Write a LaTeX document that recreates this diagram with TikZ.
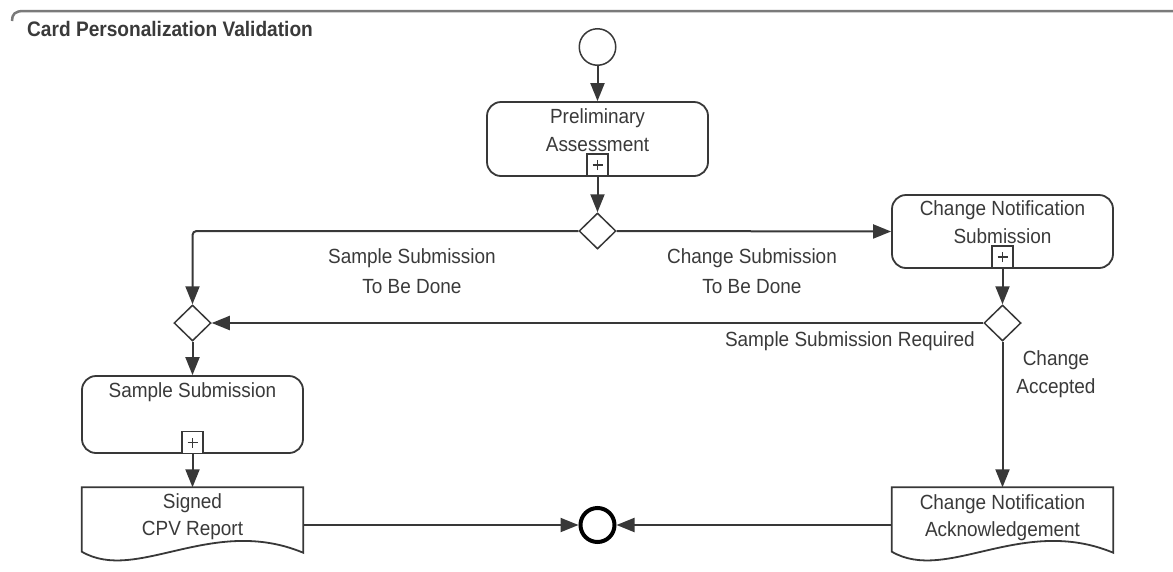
\documentclass[tikz,border=0pt]{standalone}
\usepackage{fontspec}
\setmainfont{Liberation Sans}
\newfontfamily\condfont[FakeStretch=0.925]{Liberation Sans}
\newfontfamily\titlefont[FakeStretch=0.91]{Liberation Sans}
\usetikzlibrary{shapes.geometric,arrows.meta,calc}
\definecolor{ink}{HTML}{383838}
\definecolor{txtc}{HTML}{3A3A3A}
\definecolor{framegray}{HTML}{7A7A7A}
\tikzset{
  task/.style={draw=ink, line width=1.8pt, rounded corners=14pt, fill=white,
    minimum width=221pt, minimum height=74pt, inner sep=0pt},
  plusbox/.style={draw=ink, line width=1.5pt, fill=white, inner sep=0pt,
    minimum width=21pt, minimum height=22pt,
    path picture={\draw[ink, line width=1.6pt]
      ([xshift=-5pt]path picture bounding box.center) -- ([xshift=5pt]path picture bounding box.center)
      ([yshift=-5pt]path picture bounding box.center) -- ([yshift=5pt]path picture bounding box.center);}},
  gate/.style={diamond, draw=ink, line width=1.5pt, fill=white, inner sep=0pt,
    minimum width=37pt, minimum height=36pt},
  docbox/.style={rectangle, inner sep=0pt, minimum width=221pt, minimum height=75pt},
  docline/.style={draw=ink, line width=1.8pt, fill=white},
  evstart/.style={circle, draw=ink, line width=1.5pt, fill=white, inner sep=0pt, minimum size=36.5pt},
  evend/.style={circle, draw=black, line width=4pt, fill=white, inner sep=0pt, minimum size=34pt},
  flow/.style={draw=ink, line width=2pt, -{Triangle[length=18pt,width=14pt]}},
  lbl/.style={font=\condfont\fontsize{20.5}{28}\selectfont, text=txtc, anchor=base, inner sep=0pt},
  ttl/.style={font=\titlefont\bfseries\fontsize{21}{25}\selectfont, text=txtc, anchor=base west, inner sep=0pt}
}
\begin{document}
\begin{tikzpicture}[x=1pt,y=-1pt]
\useasboundingbox (0,0) rectangle (1173,571);
\fill[white] (0,0) rectangle (1173,571);

% frame top
\draw[framegray, line width=2.5pt] (12,21) .. controls (12,14) and (15,11) .. (24,11) -- (1173,11);
\node[ttl] (title) at (27,36) {Card Personalization Validation};

% nodes
\node[evstart] (start) at (597.5,47) {};
\node[task] (pa) at (597.5,139) {};
\node[plusbox] (papl) at (597.5,165) {};
\node[gate] (g1) at (597.5,231) {};
\node[task, minimum height=73pt] (cns) at (1002.5,231.5) {};
\node[plusbox] (cnspl) at (1002.5,257) {};
\node[gate] (g3) at (1002.5,323) {};
\node[gate] (g2) at (192.5,323) {};
\node[task, minimum height=77pt] (ss) at (192.5,414.5) {};
\node[plusbox] (sspl) at (192.5,442.5) {};
\node[docbox] (doc1) at (192.5,525) {};
\node[docbox] (doc2) at (1002.5,525) {};
\node[evend] (end) at (597.5,525) {};

% document shapes
\foreach \d in {doc1,doc2}{
  \path[docline] (\d.north west) -- (\d.north east) -- ($(\d.south east)+(0,-10)$)
    .. controls ($(\d.south west)+(130,-48)$) and ($(\d.south west)+(55,21)$) ..
    ($(\d.south west)+(0,-11)$) -- cycle;
}

% texts
\node[lbl] (pa-t1) at (597.5,123) {Preliminary};
\node[lbl] (pa-t2) at (597.5,151) {Assessment};
\node[lbl] (cns-t1) at (1002.5,215) {Change Notification};
\node[lbl] (cns-t2) at (1002.5,243) {Submission};
\node[lbl] (ss-t1) at (192.5,397) {Sample Submission};
\node[lbl] (doc1-t1) at (192.5,508) {Signed};
\node[lbl] (doc1-t2) at (192.5,535) {CPV Report};
\node[lbl] (doc2-t1) at (1002.5,509) {Change Notification};
\node[lbl] (doc2-t2) at (1002.5,536) {Acknowledgement};

\node[lbl] (f1-t1) at (412,263.5) {Sample Submission};
\node[lbl] (f1-t2) at (412,293) {To Be Done};
\node[lbl] (f2-t1) at (752,263.5) {Change Submission};
\node[lbl] (f2-t2) at (752,293) {To Be Done};
\node[lbl, anchor=base east] (f3-t1) at (975,346) {Sample Submission Required};
\node[lbl] (f4-t1) at (1056,365) {Change};
\node[lbl] (f4-t2) at (1056,393) {Accepted};

% connectors
\draw[flow] (start) -- (pa);
\draw[flow] (papl) -- (g1);
\draw[flow, rounded corners=4pt] (g1.west) -| (g2.north);
\draw[flow] (g1.east) -- (cns.west);
\draw[flow] (cnspl) -- (g3);
\draw[flow] (g3.west) -- (g2.east);
\draw[flow] (g3.south) -- (doc2.north);
\draw[flow] (g2) -- (ss);
\draw[flow] (sspl) -- (doc1.north);
\draw[flow] (doc1.east) -- (end.west);
\draw[flow] (doc2.west) -- (end.east);
\end{tikzpicture}
\end{document}
